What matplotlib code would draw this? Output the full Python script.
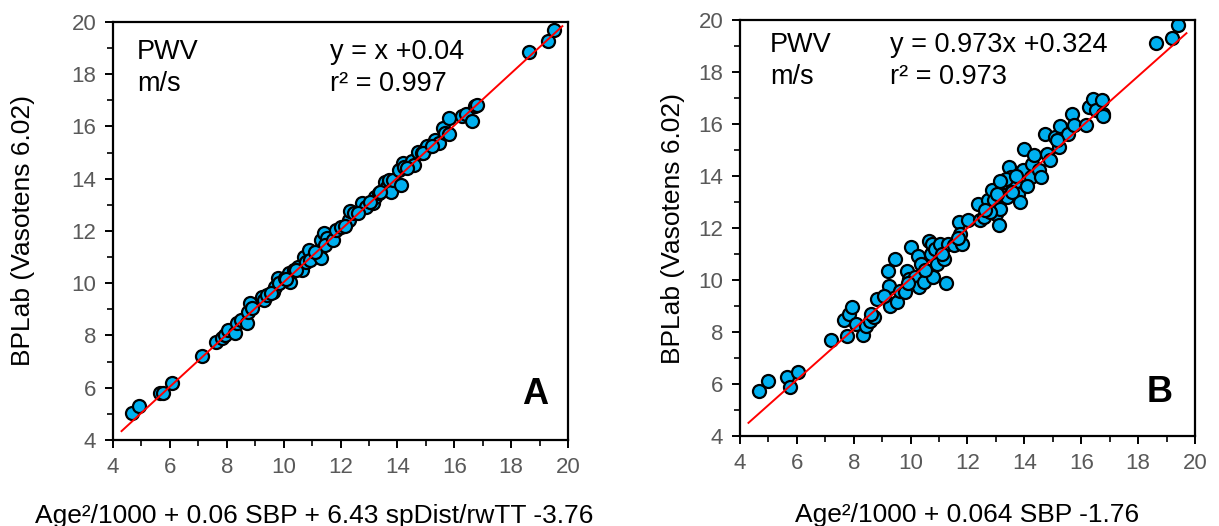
import matplotlib
matplotlib.use("Agg")
import matplotlib.pyplot as plt
import matplotlib.ticker as mticker
import numpy as np

plt.rcParams.update({
    "font.family": ["Liberation Sans", "DejaVu Sans"],
    "axes.linewidth": 1.6,
    "xtick.direction": "out",
    "ytick.direction": "out",
})

C_PT = "#00B0F0"
C_FIT = "#FF0000"
C_TICK = "#595959"

# Panel A: formula with spDist/rwTT vs BPLab
ax_a = [4.68, 4.92, 5.66, 5.77, 6.07, 7.12, 7.62, 7.82, 7.93, 8.03, 8.30, 8.36, 8.50,
        8.70, 8.76, 8.83, 8.90, 9.23, 9.30, 9.43, 9.64, 9.70, 9.81, 9.84, 10.04, 10.24,
        10.18, 10.38, 10.51, 10.65, 10.72, 10.78, 10.89, 10.92, 11.26, 11.32, 11.32,
        11.43, 11.53, 11.46, 11.73, 11.84, 12.00, 12.30, 12.34, 12.47, 12.74, 12.88,
        13.15, 13.22, 13.35, 13.50, 13.57, 13.63, 13.70, 13.76, 13.84, 14.04, 14.11,
        14.18, 14.24, 14.51, 14.58, 14.72, 14.85, 14.99, 15.05, 15.32, 15.46, 15.59,
        15.66, 15.80, 15.80, 16.27, 16.41, 16.61, 16.74, 16.81, 18.63, 19.31, 19.49,
        9.55, 10.10, 10.45, 11.10, 12.15, 12.60, 13.05, 13.40, 14.35, 14.90, 15.20]
ay_a = [5.02, 5.30, 5.81, 5.79, 6.17, 7.21, 7.76, 7.89, 8.02, 8.21, 8.08, 8.46, 8.59,
        8.46, 8.91, 9.23, 9.04, 9.49, 9.36, 9.55, 9.68, 9.87, 10.19, 10.00, 10.19, 10.06,
        10.38, 10.51, 10.63, 10.51, 11.02, 10.83, 11.27, 10.89, 11.08, 10.95, 11.65,
        11.91, 11.72, 11.47, 11.65, 12.04, 12.17, 12.42, 12.78, 12.68, 13.06, 12.93,
        13.09, 13.32, 13.45, 13.57, 13.89, 13.70, 13.95, 13.51, 13.95, 14.34, 13.77,
        14.59, 14.46, 14.66, 14.53, 15.04, 14.97, 15.17, 15.24, 15.50, 15.37, 15.95,
        15.76, 16.33, 15.70, 16.40, 16.46, 16.20, 16.77, 16.84, 18.85, 19.27, 19.69,
        9.62, 10.18, 10.50, 11.20, 12.20, 12.70, 13.10, 13.50, 14.40, 15.00, 15.25]

# Panel B: formula without spDist/rwTT vs BPLab
bx_b = [4.66, 5.00, 5.66, 5.76, 6.05, 7.21, 7.67, 7.78, 7.85, 7.94, 8.08, 8.33, 8.43,
        8.56, 8.70, 8.81, 9.19, 9.23, 9.26, 9.46, 9.51, 9.64, 9.81, 9.88, 9.95, 10.02,
        10.15, 10.25, 10.29, 10.36, 10.47, 10.64, 10.68, 10.71, 10.75, 10.78, 10.85,
        10.94, 11.05, 11.19, 11.23, 11.33, 11.54, 11.72, 11.75, 11.81, 12.02, 12.37,
        12.44, 12.58, 12.71, 12.85, 12.92, 12.99, 13.10, 13.13, 13.20, 13.27, 13.40,
        13.47, 13.54, 13.61, 13.68, 13.79, 13.85, 13.96, 13.99, 14.23, 14.26, 14.34,
        14.51, 14.58, 14.72, 14.79, 14.90, 15.07, 15.21, 15.27, 15.55, 15.69, 15.76,
        16.17, 16.28, 16.42, 16.51, 16.72, 16.76, 18.63, 19.19, 19.42,
        8.60, 9.05, 9.90, 10.50, 11.10, 11.65, 12.80, 13.05, 13.35, 13.70, 14.10,
        13.15, 13.55, 12.60, 15.15, 16.75]
by_b = [5.74, 6.12, 6.29, 5.89, 6.47, 7.69, 8.46, 7.86, 8.69, 8.95, 8.31, 7.88, 8.24,
        8.43, 8.56, 9.27, 10.36, 9.78, 9.01, 10.81, 9.14, 9.59, 9.53, 10.36, 10.04, 11.26,
        10.10, 10.94, 9.72, 10.62, 9.91, 11.52, 10.36, 11.00, 11.39, 10.10, 11.19,
        10.62, 11.39, 10.81, 9.88, 11.39, 11.33, 12.23, 11.78, 11.39, 12.29, 12.91,
        12.29, 12.42, 13.09, 13.45, 13.06, 12.55, 12.10, 12.74, 13.45, 13.77, 13.19,
        14.35, 13.96, 13.58, 13.77, 13.32, 13.00, 14.22, 15.03, 13.96, 14.45, 14.80,
        14.22, 13.96, 15.63, 14.86, 14.60, 15.50, 15.12, 15.92, 15.63, 16.40, 15.95,
        15.98, 16.64, 16.96, 16.53, 16.94, 16.40, 19.10, 19.32, 19.81,
        8.70, 9.40, 9.90, 10.40, 11.00, 11.60, 12.60, 13.30, 13.90, 14.00, 13.60,
        13.80, 13.40, 12.70, 15.40, 16.30]

panels = [
    dict(x=ax_a, y=ay_a, slope=1.0, icpt=0.04, fit_x=(4.3, 19.8),
         eq="y = x +0.04\nr² = 0.997", letter="A",
         xlabel="Age²/1000 + 0.06 SBP + 6.43 spDist/rwTT -3.76",
         rect=[0.0927, 0.1635, 0.3733, 0.7947],
         pwv_x=0.053, eq_x=0.477, txt_y=0.96, let_x=0.956, let_y=0.067,
         xl=(0.442, -0.152), yl=(-0.171, 0.5)),
    dict(x=bx_b, y=by_b, slope=0.973, icpt=0.324, fit_x=(4.3, 19.7),
         eq="y = 0.973x +0.324\nr² = 0.973", letter="B",
         xlabel="Age²/1000 + 0.064 SBP -1.76",
         rect=[0.607, 0.171, 0.3733, 0.791],
         pwv_x=0.066, eq_x=0.33, txt_y=0.97, let_x=0.95, let_y=0.0625,
         xl=(0.5, -0.16), yl=(-0.121, 0.5)),
]

fig = plt.figure(figsize=(12.19, 5.26), dpi=100)

for p in panels:
    ax = fig.add_axes(p["rect"])
    fx = np.array(p["fit_x"])
    ax.plot(fx, p["slope"] * fx + p["icpt"], color=C_FIT, lw=1.4, zorder=3)
    ax.scatter(p["x"], p["y"], s=88, facecolor=C_PT, edgecolor="black", linewidth=1.6, zorder=2)

    ax.set_xlim(4, 20)
    ax.set_ylim(4, 20)
    ax.xaxis.set_major_locator(mticker.MultipleLocator(2))
    ax.yaxis.set_major_locator(mticker.MultipleLocator(2))
    ax.xaxis.set_minor_locator(mticker.MultipleLocator(1))
    ax.yaxis.set_minor_locator(mticker.MultipleLocator(1))
    ax.tick_params(which="major", length=6, width=1.4, labelsize=16, labelcolor=C_TICK, pad=6)
    ax.tick_params(which="minor", length=4, width=1.2)

    ax.set_xlabel(p["xlabel"], fontsize=19)
    ax.set_ylabel("BPLab (Vasotens 6.02)", fontsize=19)
    ax.xaxis.set_label_coords(*p["xl"])
    ax.yaxis.set_label_coords(*p["yl"])

    ax.text(p["pwv_x"], p["txt_y"], "PWV\nm/s", transform=ax.transAxes,
            fontsize=19.5, va="top", ha="left", linespacing=1.3)
    ax.text(p["eq_x"], p["txt_y"], p["eq"], transform=ax.transAxes,
            fontsize=19.5, va="top", ha="left", linespacing=1.3)
    ax.text(p["let_x"], p["let_y"], p["letter"], transform=ax.transAxes,
            fontsize=26, fontweight="bold", va="bottom", ha="right")

fig.savefig("out.png", dpi=100)
